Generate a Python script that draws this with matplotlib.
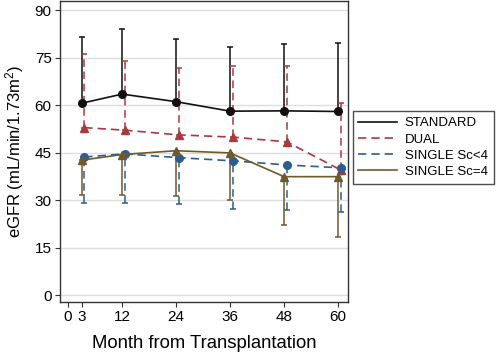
import matplotlib

matplotlib.use("Agg")
import matplotlib.pyplot as plt
import numpy as np

plt.rcParams["font.family"] = ["Liberation Sans", "DejaVu Sans"]
plt.rcParams["mathtext.default"] = "regular"

months = [3, 12, 24, 36, 48, 60]
x_ticks = [0, 3, 12, 24, 36, 48, 60]
y_ticks = [0, 15, 30, 45, 60, 75, 90]

standard_mean = [60.6, 63.5, 61.1, 58.1, 58.2, 58.0]
standard_upper = [81.6, 84.2, 80.8, 78.5, 79.2, 79.5]

dual_mean = [52.9, 52.1, 50.6, 49.9, 48.4, 39.5]
dual_upper = [76.1, 73.9, 71.9, 72.4, 72.4, 60.6]

sc_lt4_mean = [43.6, 44.6, 43.4, 42.4, 41.1, 40.2]
sc_lt4_lower = [29.1, 29.1, 28.7, 27.3, 26.9, 26.3]

sc_eq4_mean = [42.6, 44.4, 45.6, 44.9, 37.4, 37.4]
sc_eq4_lower = [31.6, 31.6, 31.4, 30.1, 22.2, 18.4]


def main():
    fig = plt.figure(figsize=(5.0, 3.54), dpi=100)
    ax = fig.add_axes([0.12, 0.147, 0.576, 0.85])

    series = [
        ("STANDARD", standard_mean, None, standard_upper, "#111111", "-", "o", 0.0),
        ("DUAL", dual_mean, None, dual_upper, "#A8393F", (0, (5, 3)), "^", 0.6),
        ("SINGLE Sc<4", sc_lt4_mean, sc_lt4_lower, None, "#2B5E91", (0, (5, 3)), "o", 0.6),
        ("SINGLE Sc=4", sc_eq4_mean, sc_eq4_lower, None, "#6E5A2A", "-", "^", 0.0),
    ]

    handles = []
    for label, mean, lower, upper, color, style, marker, shift in series:
        mean = np.array(mean)
        x = np.array(months) + shift
        low_err = np.zeros_like(mean) if lower is None else mean - np.array(lower)
        up_err = np.zeros_like(mean) if upper is None else np.array(upper) - mean
        err = ax.errorbar(
            x, mean, yerr=[low_err, up_err],
            fmt="none", ecolor=color, elinewidth=1.1, capsize=2.5, capthick=1.1, zorder=2,
        )
        for coll in err[2]:
            coll.set_linestyle(style)
        ax.plot(
            x, mean, color=color, linestyle=style, linewidth=1.2,
            marker=marker, markersize=5.5, zorder=3,
        )
        handles.append(plt.Line2D([], [], color=color, linestyle=style, linewidth=1.2, label=label))

    ax.set_xlim(-1.8, 62.2)
    ax.set_ylim(-2.2, 92.9)
    ax.set_xticks(x_ticks)
    ax.set_yticks(y_ticks)
    ax.tick_params(labelsize=11, length=3.5, color="#333333", pad=2.5)
    ax.grid(axis="y", color="#DEDEDE", linewidth=1.0)
    ax.set_axisbelow(True)
    for spine in ax.spines.values():
        spine.set_color("#333333")
        spine.set_linewidth(1.0)

    ax.set_xlabel("Month from Transplantation", fontsize=13.3, labelpad=8)
    ax.set_ylabel("eGFR (mL/min/1.73m$^{2}$)", fontsize=12, labelpad=6)

    fig.legend(
        handles=handles, loc="upper left", bbox_to_anchor=(0.705, 0.686),
        fontsize=9.5, frameon=True, fancybox=False, edgecolor="#222222",
        borderaxespad=0, handlelength=2.9, handletextpad=0.6,
        labelspacing=0.3, borderpad=0.45,
    )

    fig.savefig("out.png", dpi=100)
    plt.close(fig)


if __name__ == "__main__":
    main()
